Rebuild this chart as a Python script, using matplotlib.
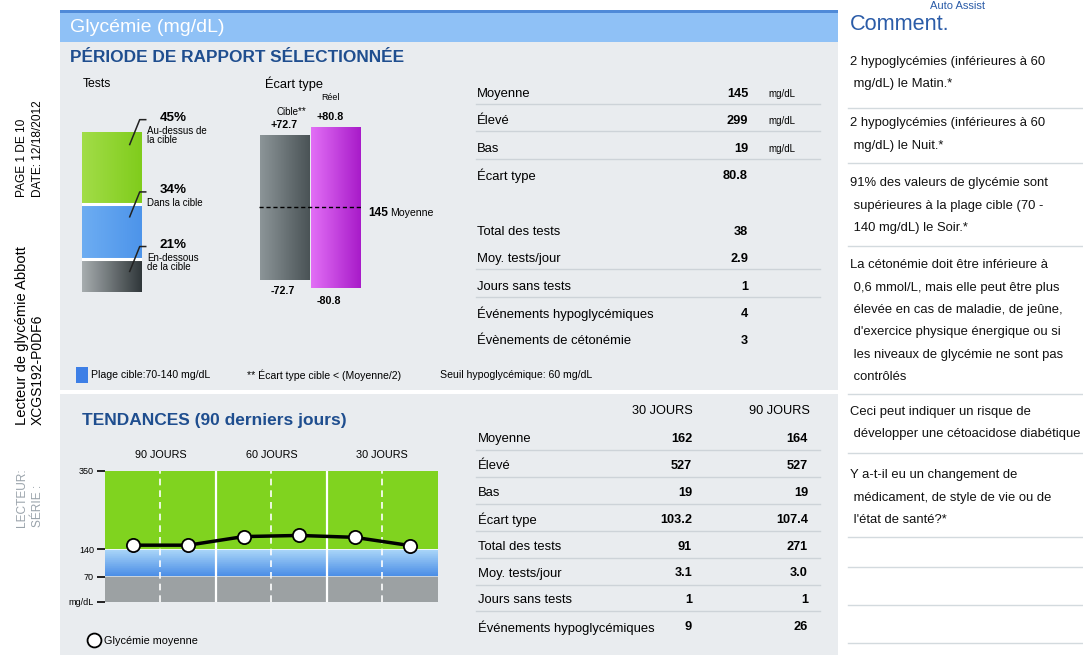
import numpy as np
import matplotlib
matplotlib.use("Agg")
import matplotlib.pyplot as plt
from matplotlib.patches import Rectangle
from matplotlib.lines import Line2D
from matplotlib.colors import LinearSegmentedColormap
import matplotlib.transforms as mtransforms

plt.rcParams['font.family'] = ['Liberation Sans', 'DejaVu Sans']

# ---------------- data ----------------
test_categories = ['En-dessous\nde la cible', 'Dans la cible', 'Au-dessus de\nla cible']
test_percent = [21, 34, 45]

sd_categories = ['Cible**', 'Réel']
sd_values = [72.7, 80.8]
mean_glucose = 145

trend_headers = ['90 JOURS', '60 JOURS', '30 JOURS']
trend_values = [151, 151, 174, 177, 172, 150]
trend_yticks = [0, 70, 140, 350]
trend_yticklabels = ['mg/dL', '70', '140', '350']

period_labels = ['Moyenne', 'Élevé', 'Bas', 'Écart type']
period_values = ['145', '299', '19', '80.8']
period_units = ['mg/dL', 'mg/dL', 'mg/dL', '']
period2_labels = ['Total des tests', 'Moy. tests/jour', 'Jours sans tests',
                  'Événements hypoglycémiques', 'Évènements de cétonémie']
period2_values = ['38', '2.9', '1', '4', '3']

trend_table_cols = ['30 JOURS', '90 JOURS']
trend_table_labels = ['Moyenne', 'Élevé', 'Bas', 'Écart type', 'Total des tests',
                      'Moy. tests/jour', 'Jours sans tests', 'Événements hypoglycémiques']
trend_30 = ['162', '527', '19', '103.2', '91', '3.1', '1', '9']
trend_90 = ['164', '527', '19', '107.4', '271', '3.0', '1', '26']

comments = [
    ["2 hypoglycémies (inférieures à 60", " mg/dL) le Matin.*"],
    ["2 hypoglycémies (inférieures à 60", " mg/dL) le Nuit.*"],
    ["91% des valeurs de glycémie sont", " supérieures à la plage cible (70 -", " 140 mg/dL) le Soir.*"],
    ["La cétonémie doit être inférieure à", " 0,6 mmol/L, mais elle peut être plus",
     " élevée en cas de maladie, de jeûne,", " d'exercice physique énergique ou si",
     " les niveaux de glycémie ne sont pas", " contrôlés"],
    ["Ceci peut indiquer un risque de", " développer une cétoacidose diabétique"],
    ["Y a-t-il eu un changement de", " médicament, de style de vie ou de", " l'état de santé?*"],
]

# ---------------- layout helpers ----------------
W, H = 1083, 655
fig = plt.figure(figsize=(W / 100, H / 100), dpi=100)
fig.patch.set_facecolor('white')

bg = fig.add_axes([0, 0, 1, 1], zorder=0)
bg.set_xlim(0, W)
bg.set_ylim(H, 0)
bg.axis('off')


def px_axes(x0, y0, x1, y1, z=2):
    ax = fig.add_axes([x0 / W, 1 - y1 / H, (x1 - x0) / W, (y1 - y0) / H], zorder=z)
    ax.patch.set_alpha(0)
    return ax


def rect(x0, y0, x1, y1, color):
    bg.add_patch(Rectangle((x0, y0), x1 - x0, y1 - y0, facecolor=color, lw=0))


def txt(x, y, s, size=9.4, ha='left', va='center', **kw):
    bg.text(x, y, s, fontsize=size, ha=ha, va=va, **kw)


def gradient_fill(ax, patch, c1, c2):
    x0, y0 = patch.get_x(), patch.get_y()
    w, h = patch.get_width(), patch.get_height()
    cmap = LinearSegmentedColormap.from_list('g', [c1, c2])
    im = ax.imshow(np.linspace(0, 1, 128)[None, :], cmap=cmap,
                   extent=(x0, x0 + w, y0, y0 + h), aspect='auto', origin='lower',
                   interpolation='bilinear', zorder=patch.get_zorder() + 0.1)
    im.set_clip_path(patch)


PANEL = '#e9ecef'
DARKBLUE = '#1f4e8f'
SEP = '#cdd3d8'

# ---------------- backgrounds ----------------
rect(60, 42, 838, 390, PANEL)
rect(60, 394, 838, 655, PANEL)
rect(60, 12, 838, 42, '#8fc1f6')
rect(60, 10, 838, 13, '#4f8ad8')

txt(70, 27, 'Glycémie (mg/dL)', 14, color='white')
txt(70, 58, 'PÉRIODE DE RAPPORT SÉLECTIONNÉE', 12.4, color=DARKBLUE, fontweight='bold')
txt(82, 420, 'TENDANCES (90 derniers jours)', 12.5, color=DARKBLUE, fontweight='bold')
txt(957, 1, 'Auto Assist', 8, ha='center', va='top', color='#2b5ca8')
txt(850, 25, 'Comment.', 15.6, color='#2b5ca8')

# left vertical strip
txt(22, 197, 'PAGE 1 DE 10', 8.6, ha='center', va='bottom', rotation=90)
txt(38, 197, 'DATE: 12/18/2012', 8.6, ha='center', va='bottom', rotation=90)
txt(22, 425, 'Lecteur de glycémie Abbott', 10.6, ha='center', va='bottom', rotation=90)
txt(38, 425, 'XCGS192-P0DF6', 10, ha='center', va='bottom', rotation=90)
txt(22, 527, 'LECTEUR:', 8.6, ha='center', va='bottom', rotation=90, color='#9aa3ab')
txt(38, 527, 'SÉRIE :', 8.6, ha='center', va='bottom', rotation=90, color='#9aa3ab')

# ---------------- Tests stacked bar ----------------
txt(83, 84, 'Tests', 8.8)
txt(265, 84, 'Écart type', 9.3)

ax_t = px_axes(81.7, 131.7, 141.7, 292.3)
ax_t.set_xlim(-0.5, 0.5)
ax_t.set_ylim(0, 100)
ax_t.axis('off')
seg_colors = [('#a7adaf', '#30373a'), ('#6dadf2', '#4d94ea'), ('#a2dd48', '#80cc1c')]
bottom = 0
for cat, val, (c1, c2) in zip(test_categories, test_percent, seg_colors):
    b = ax_t.bar(0, val, bottom=bottom, width=1.0, color=c2, lw=0)[0]
    gradient_fill(ax_t, b, c1, c2)
    top = bottom + val
    if bottom > 0:
        ax_t.axhline(bottom, color='white', lw=2.2, zorder=5)
    # leader line
    ax_t.plot([0.3, 0.467, 0.567], [top - 8, top + 7.5, top + 7.5],
              color='#222222', lw=1.1, clip_on=False, zorder=6)
    ax_t.text(0.805, top + 8.5, f'{val}%', fontsize=9.6, fontweight='bold',
              ha='left', va='center', clip_on=False)
    ax_t.text(0.59, top + 3.5, cat, fontsize=7, ha='left', va='top',
              linespacing=0.85, clip_on=False)
    bottom = top
ax_t.set_xlim(-0.5, 0.5)
ax_t.set_ylim(0, 100)

# ---------------- Standard deviation bars ----------------
ax_s = px_axes(259.3, 100, 360.9, 320)
ax_s.set_xlim(-0.5, 1.5)
ylo, yhi = mean_glucose - (320 - 207.3), mean_glucose + (207.3 - 100)
ax_s.set_ylim(ylo, yhi)
ax_s.axis('off')
sd_colors = [('#8c9598', '#4a5356'), ('#e26ff6', '#a81bc9')]
for i, (sd, (c1, c2)) in enumerate(zip(sd_values, sd_colors)):
    b = ax_s.bar(i, 2 * sd, bottom=mean_glucose - sd, width=0.97, color=c2, lw=0)[0]
    gradient_fill(ax_s, b, c1, c2)
ax_s.set_xlim(-0.5, 1.5)
ax_s.set_ylim(ylo, yhi)
ax_s.plot([-0.5, 1.5], [mean_glucose, mean_glucose], color='black', lw=1,
          ls=(0, (3, 2)), zorder=5)
ax_s.text(-0.02, mean_glucose + sd_values[0] + 10, f'+{sd_values[0]}', fontsize=7.7,
          fontweight='bold', ha='center', va='center')
ax_s.text(0.14, mean_glucose + sd_values[0] + 23, sd_categories[0], fontsize=7,
          ha='center', va='center')
ax_s.text(0.89, mean_glucose + sd_values[1] + 9, f'+{sd_values[1]}', fontsize=7.7,
          fontweight='bold', ha='center', va='center')
ax_s.text(0.91, mean_glucose + sd_values[1] + 29, sd_categories[1], fontsize=6.4,
          ha='center', va='center')
ax_s.text(-0.04, mean_glucose - sd_values[0] - 11, f'-{sd_values[0]}', fontsize=7.7,
          fontweight='bold', ha='center', va='center')
ax_s.text(0.86, mean_glucose - sd_values[1] - 13, f'-{sd_values[1]}', fontsize=7.7,
          fontweight='bold', ha='center', va='center')
ax_s.text(1.64, mean_glucose - 6, f'{mean_glucose}', fontsize=8.6, fontweight='bold',
          ha='left', va='center', clip_on=False)
ax_s.text(1.64 + 0.43, mean_glucose - 6, 'Moyenne', fontsize=7.6,
          ha='left', va='center', clip_on=False)

# legend row
rect(76, 367, 88, 383, '#3d7fe6')
txt(91, 375, 'Plage cible:70-140 mg/dL', 7.6)
txt(247, 375, '** Écart type cible < (Moyenne/2)', 7.6)
txt(440, 375, 'Seuil hypoglycémique: 60 mg/dL', 7.6)

# ---------------- Stats table (top) ----------------
for i, (lab, val, unit) in enumerate(zip(period_labels, period_values, period_units)):
    y = 94 + i * 27.3
    txt(477, y, lab, 9.4)
    txt(748, y, val, 9.2, ha='right', fontweight='bold')
    if unit:
        txt(768, y, unit, 7)
    if i < len(period_labels) - 1:
        bg.plot([476, 820], [y + 10, y + 10], color=SEP, lw=1)
for i, (lab, val) in enumerate(zip(period2_labels, period2_values)):
    y = 232 + i * 27.3
    txt(477, y, lab, 9.4)
    txt(748, y, val, 9.2, ha='right', fontweight='bold')
    if i in (1, 2):
        bg.plot([476, 820], [y + 10, y + 10], color=SEP, lw=1)

# ---------------- Trend chart ----------------
ax_tr = px_axes(105, 470.7, 437.7, 601.7, z=3)
scale_v = [-700, 0, 70, 140, 350, 1400]
scale_p = [-250, 0, 25, 52.4, 131, 524]
ax_tr.set_yscale('function', functions=(lambda v: np.interp(v, scale_v, scale_p),
                                        lambda p: np.interp(p, scale_p, scale_v)))
ax_tr.set_xlim(0, 6)
ax_tr.set_ylim(0, 350)
ax_tr.axhspan(0, 69, color='#9ca1a3', lw=0, zorder=0)
ax_tr.axhspan(69, 71, color='#c9d3dc', lw=0, zorder=0)
n_strips = 40
blue_cmap = LinearSegmentedColormap.from_list('b', ['#4a8de6', '#a9d5f8'])
edges = np.linspace(71, 139, n_strips + 1)
for k in range(n_strips):
    ax_tr.axhspan(edges[k], edges[k + 1] + 0.3, color=blue_cmap(k / (n_strips - 1)), lw=0, zorder=0)
ax_tr.axhspan(139, 141.5, color='#eef6fb', lw=0, zorder=0)
ax_tr.axhspan(141.5, 350, color='#80d31f', lw=0, zorder=0)
for xv in (2, 4):
    ax_tr.axvline(xv, color='white', lw=1.6, zorder=1)
for xv in (1, 3, 5):
    ax_tr.axvline(xv, color='white', lw=1.2, ls=(0, (4, 3)), zorder=1)
x_pos = np.arange(len(trend_values)) + 0.5
ax_tr.plot(x_pos, trend_values, color='black', lw=2.5, marker='o', ms=9.5,
           mfc='white', mec='black', mew=1.3, zorder=5, clip_on=False)
for s in ax_tr.spines.values():
    s.set_visible(False)
ax_tr.set_xticks([])
ax_tr.set_yticks(trend_yticks)
ax_tr.set_yticklabels(trend_yticklabels)
ax_tr.tick_params(axis='y', length=6, width=1.2, pad=2, labelsize=6.5, colors='black')
ax_tr.yaxis.set_minor_locator(matplotlib.ticker.NullLocator())
hdr_trans = mtransforms.blended_transform_factory(ax_tr.transData, ax_tr.transAxes)
for xv, h in zip((1, 3, 5), trend_headers):
    ax_tr.text(xv, 1.12, h, transform=hdr_trans, fontsize=7.8, ha='center', va='center')
ax_tr.legend([Line2D([], [], marker='o', ls='none', mfc='white', mec='black', ms=10, mew=1.3)],
             ['Glycémie moyenne'], loc='center left',
             bbox_to_anchor=(89 / W, 1 - 641 / H), bbox_transform=fig.transFigure,
             frameon=False, fontsize=7.8, handlelength=1.0, handletextpad=0.4,
             borderpad=0, borderaxespad=0)

# ---------------- Trend table ----------------
txt(693, 411, trend_table_cols[0], 9.2, ha='right')
txt(810, 411, trend_table_cols[1], 9.2, ha='right')
for i, (lab, v30, v90) in enumerate(zip(trend_table_labels, trend_30, trend_90)):
    y = 439 + i * 26.9
    txt(478, y, lab, 9.4)
    txt(692, y, v30, 9.2, ha='right', fontweight='bold')
    txt(808, y, v90, 9.2, ha='right', fontweight='bold')
    if i < len(trend_table_labels) - 1:
        bg.plot([476, 820], [y + 11, y + 11], color=SEP, lw=1)

# ---------------- Comments column ----------------
block_starts = [62, 123, 183, 265, 412, 475]
for start, lines in zip(block_starts, comments):
    for j, line in enumerate(lines):
        txt(850, start + j * 22.5, line, 9.4, color='#111111')
for ys in [108, 163, 246, 394, 453, 537, 567, 605, 643]:
    bg.plot([848, 1083], [ys, ys], color='#d3dade', lw=1)

fig.savefig('out.png', dpi=100)
